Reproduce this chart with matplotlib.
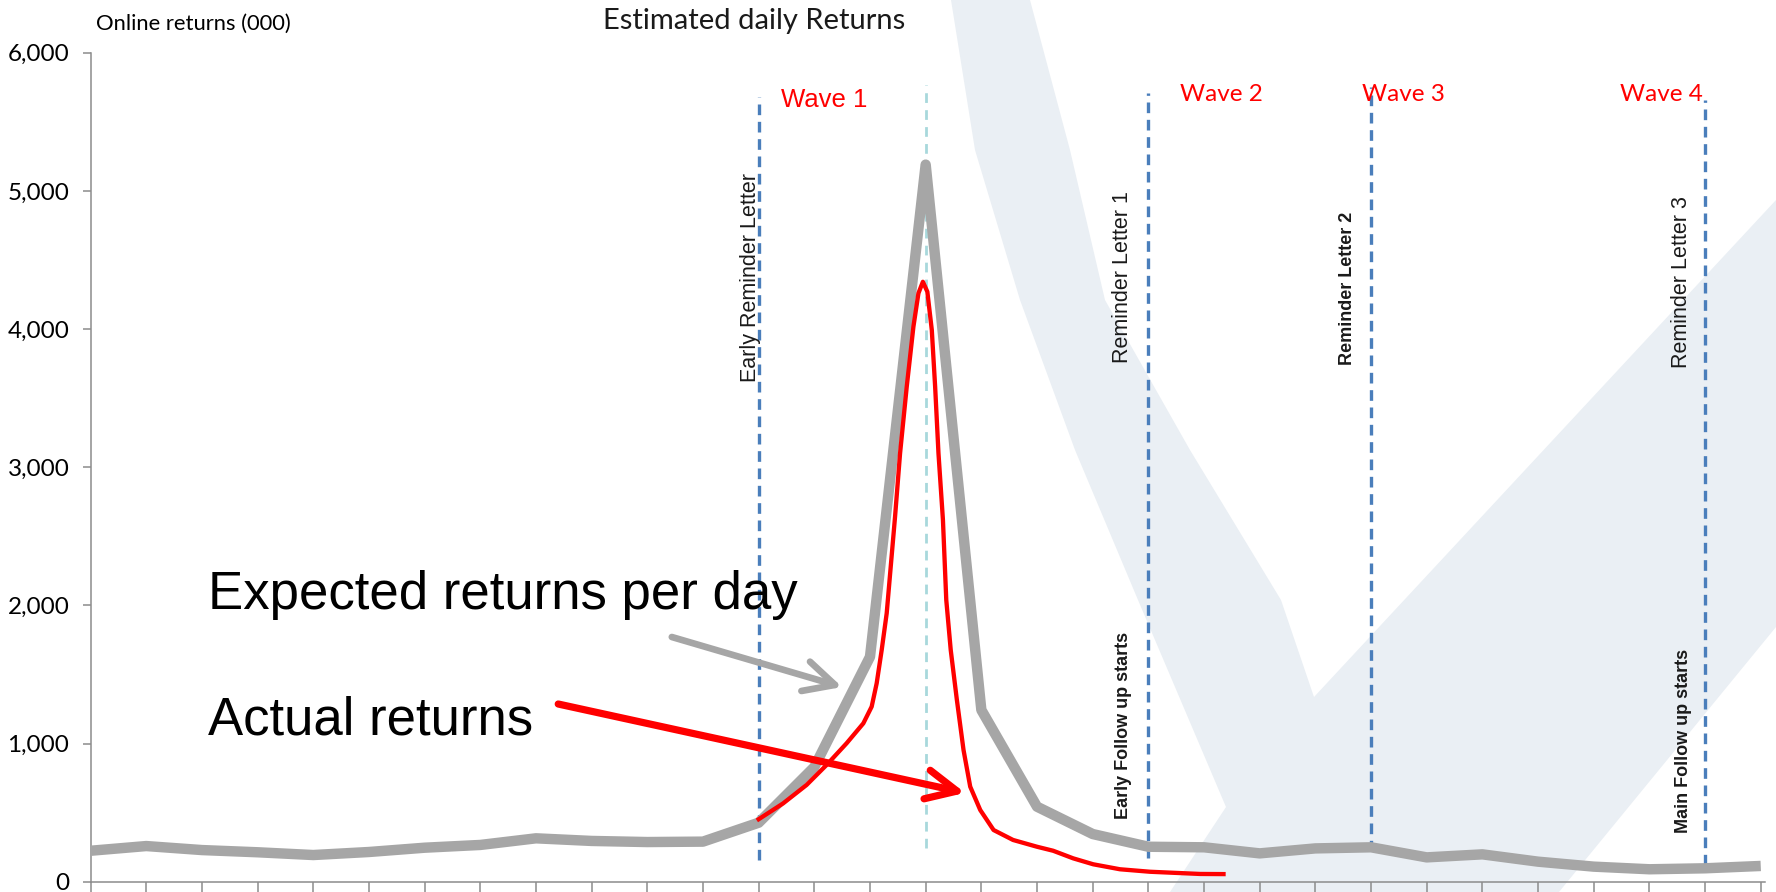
import matplotlib
matplotlib.use("Agg")
import matplotlib.pyplot as plt
from matplotlib.patches import Polygon
from matplotlib.ticker import FuncFormatter

plt.rcParams['font.family'] = ['Lato', 'DejaVu Sans']

# ---- data -------------------------------------------------------------
days = list(range(31))
expected = [224, 258, 229, 213, 193, 215, 246, 266, 314, 295, 287, 290,
            427, 830, 1628, 5190, 1243, 543, 345, 253, 249, 205, 241, 249,
            176, 198, 145, 109, 90, 97, 114]

actual_day = [12.0, 12.44, 12.86, 13.22, 13.58, 13.88, 14.03, 14.12, 14.21,
              14.30, 14.45, 14.54, 14.66, 14.78, 14.87, 14.95, 15.03, 15.11,
              15.17, 15.23, 15.31, 15.37, 15.45, 15.56, 15.68, 15.80, 15.98,
              16.22, 16.57, 17.00, 17.29, 17.65, 18.01, 18.49, 19.03, 19.93,
              20.35]
actual_val = [452, 567, 700, 845, 1002, 1146, 1267, 1436, 1677, 1943, 2642,
              3100, 3583, 4017, 4259, 4342, 4270, 3993, 3583, 3100, 2619,
              2039, 1677, 1317, 953, 688, 519, 374, 302, 253, 224, 169, 126,
              90, 72, 56, 55]

# letters / follow-up events (blue dashed markers)
event_day = [12, 19, 23, 29]
event_top = [5681, 5706, 5754, 5657]
event_bottom = [157, 171, 220, 121]

# peak marker (light dashed)
peak_day = 15
peak_top = 5766
peak_bottom = 244

letter_labels = ["Early Reminder Letter", "Reminder Letter 1",
                 "Reminder Letter 2", "Reminder Letter 3"]
letter_x = [11.86, 18.53, 22.58, 28.58]
letter_y = [4373, 4376, 4293, 4337]
letter_bold = [False, False, True, False]

followup_labels = ["Early Follow up starts", "Main Follow up starts"]
followup_x = [18.56, 28.61]
followup_y = [1134, 1018]

wave_labels = ["Wave 1", "Wave 2", "Wave 3", "Wave 4"]
wave_x = [13.18, 20.31, 23.58, 28.21]
wave_y = [5656, 5700, 5700, 5700]

y_ticks = [0, 1000, 2000, 3000, 4000, 5000, 6000]

# ---- figure -----------------------------------------------------------
W, H = 1776, 892
fig = plt.figure(figsize=(W / 100, H / 100), dpi=100)
fig.patch.set_facecolor('white')


def fx(px):
    return px / W


def fy(py):
    return 1 - py / H


# faint background emblem
emblem = [(951, 0), (1030, 0), (1070, 150), (1105, 300), (1190, 450),
          (1281, 600), (1314, 697), (1776, 200), (1776, 627), (1559, 892),
          (1170, 892), (1226, 807), (1138, 600), (1075, 450), (1020, 300),
          (975, 150)]
fig.add_artist(Polygon([(fx(x), fy(y)) for x, y in emblem], closed=True,
                       transform=fig.transFigure, facecolor='#eaeff4',
                       edgecolor='none', zorder=-5))

left_px, right_px = 90.6, 1765.2
top_px, bottom_px = 52.7, 881.7
ax = fig.add_axes([fx(left_px), fy(bottom_px), (right_px - left_px) / W,
                   (bottom_px - top_px) / H])
ax.set_facecolor('none')
ax.set_xlim(0, 30.08)
ax.set_ylim(0, 6000)

for s in ['top', 'right']:
    ax.spines[s].set_visible(False)
for s in ['left', 'bottom']:
    ax.spines[s].set_color('#8c8c8c')
    ax.spines[s].set_linewidth(1.1)

ax.set_xticks(days)
ax.set_xticklabels([])
ax.tick_params(axis='x', direction='out', length=8, width=1.1, color='#8c8c8c')
ax.set_yticks(y_ticks)
ax.yaxis.set_major_formatter(FuncFormatter(lambda v, p: f"{int(v):,}"))
ax.tick_params(axis='y', direction='out', length=5.8, width=1.1,
               color='#8c8c8c', pad=9.5, labelsize=17.5)

# series
ax.plot(days, expected, color='#a6a6a6', lw=7.5, solid_joinstyle='round',
        solid_capstyle='butt', zorder=3)
ax.plot(actual_day, actual_val, color='#ff0000', lw=3.1,
        solid_joinstyle='round', zorder=4)

# event markers
for d, t, b in zip(event_day, event_top, event_bottom):
    ax.plot([d, d], [b, t], color='#4a7ebb', lw=2.4, dashes=(3.2, 2.0),
            zorder=2)
ax.plot([peak_day, peak_day], [peak_bottom, peak_top], color='#a8d8dc',
        lw=2.0, dashes=(3.5, 2.6), zorder=2)

for lab, x, y, b in zip(letter_labels, letter_x, letter_y, letter_bold):
    ax.text(x, y, lab, rotation=90, ha='center', va='center',
            fontsize=13 if b else 15.5, fontweight='bold' if b else 'normal',
            family=['Liberation Sans', 'DejaVu Sans'], color='#1a1a1a',
            zorder=5)

for lab, x, y in zip(followup_labels, followup_x, followup_y):
    ax.text(x, y, lab, rotation=90, ha='center', va='center', fontsize=13,
            fontweight='bold', family=['Liberation Sans', 'DejaVu Sans'],
            color='#1a1a1a', zorder=5)

for i, (lab, x, y) in enumerate(zip(wave_labels, wave_x, wave_y)):
    fam = ['Liberation Sans', 'DejaVu Sans'] if i == 0 else ['Lato', 'DejaVu Sans']
    ax.text(x, y, lab, ha='center', va='center', color='#ff0000',
            fontsize=18.5 if i == 0 else 17.5, family=fam, zorder=5)

# callouts
ax.text(2.11, 1975, "Expected returns per day", fontsize=38,
        family=['Liberation Sans', 'DejaVu Sans'], ha='left', va='baseline',
        color='black', zorder=6)
ax.text(2.11, 1062, "Actual returns", fontsize=38,
        family=['Liberation Sans', 'DejaVu Sans'], ha='left', va='baseline',
        color='black', zorder=6)
ax.annotate('', xy=(13.50, 1409), xytext=(10.44, 1771),
            arrowprops=dict(arrowstyle='->,head_length=2.2,head_width=1.1',
                            mutation_scale=10, color='#a6a6a6', lw=4.8,
                            shrinkA=0, shrinkB=0), zorder=6)
ax.annotate('', xy=(15.71, 643), xytext=(8.40, 1286),
            arrowprops=dict(arrowstyle='->,head_length=2.2,head_width=1.05',
                            mutation_scale=10, color='#ff0000', lw=5.2,
                            shrinkA=0, shrinkB=0), zorder=6)

# headings
fig.text(fx(754), fy(21), "Estimated daily Returns", ha='center', va='center',
         fontsize=21, color='#1a1a1a')
fig.text(fx(96), fy(24), "Online returns (000)", ha='left', va='center',
         fontsize=15.8, color='black')

fig.savefig('out.png', dpi=100)
